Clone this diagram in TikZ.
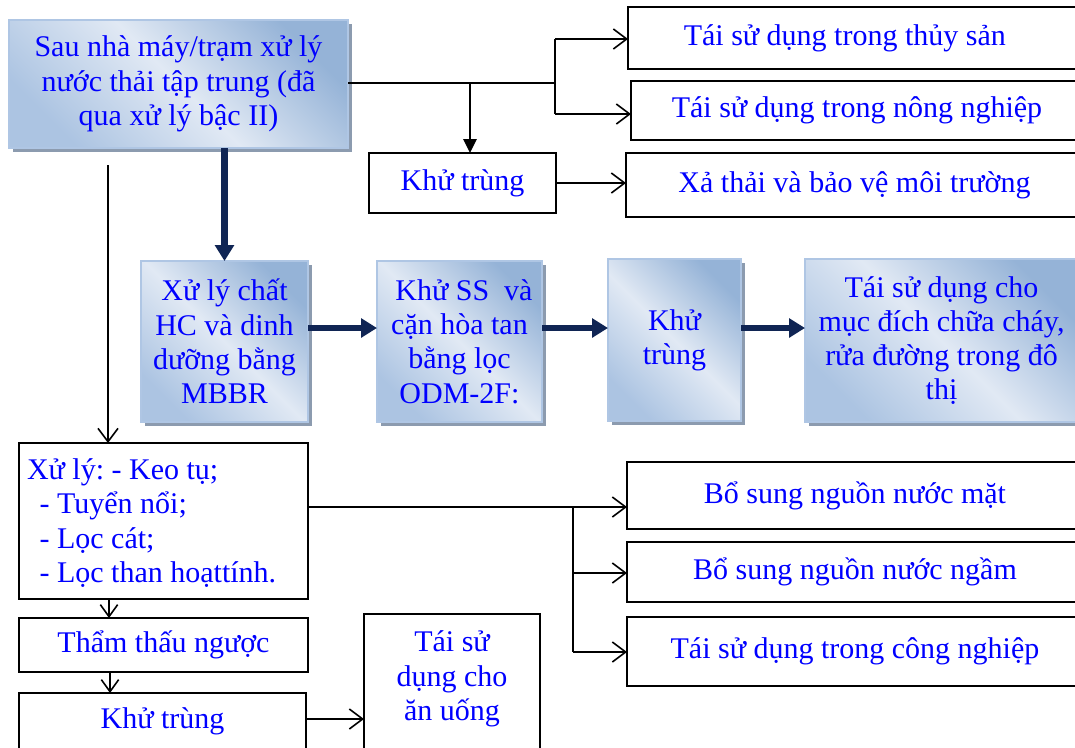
\documentclass[tikz,border=0pt]{standalone}
\usepackage{fontspec}
\setmainfont{Liberation Serif}
\usetikzlibrary{arrows.meta,shadows}
\definecolor{txtblue}{RGB}{0,0,255}
\definecolor{navy}{RGB}{16,37,84}
\definecolor{gdark}{RGB}{149,179,215}
\definecolor{glight}{RGB}{225,233,244}
\definecolor{gmid}{RGB}{172,196,226}
\definecolor{gborder}{RGB}{175,198,228}
\definecolor{gshadow}{RGB}{140,155,175}
\begin{document}
\frenchspacing
\begin{tikzpicture}[x=0.75pt,y=-0.75pt,
  every node/.style={font=\fontsize{22.5pt}{25.7pt}\selectfont, text=txtblue, inner sep=0pt, outer sep=0pt},
  wbox/.style={draw=black, line width=1.3pt, fill=white, anchor=north west, align=center},
  gbox/.style={draw=gborder, line width=1pt, top color=gdark, bottom color=gmid, middle color=glight,
    shading angle=-45, anchor=north west, align=center,
    drop shadow={shadow xshift=3pt, shadow yshift=-3pt, fill=gshadow, opacity=1}},
  ln/.style={line width=1.2pt, draw=black},
  thinarrow/.style={ln, -{Straight Barb[length=10pt,width=15pt]}},
  smallarrow/.style={ln, -{Straight Barb[length=9pt,width=13pt]}},
  fillarrow/.style={ln, -{Triangle[length=10.5pt,width=10pt]}},
  thk/.style={line width=5pt, draw=navy, -{Triangle[length=12pt,width=14pt]}},
]
\useasboundingbox (0,0) rectangle (1075,747);
\clip (0,0) rectangle (1075,747);

% top source box
\node[gbox, minimum width=254.25pt, minimum height=96pt] (src) at (9,20)
  {Sau nhà máy/trạm xử lý\\nước thải tập trung (đã\\qua xử lý bậc II)};

% right column top
\node[wbox, minimum width=341.25pt, minimum height=46.5pt] (thuy) at (628,7) {Tái sử dụng trong thủy sản\hspace*{16pt}};
\node[wbox, minimum width=339pt, minimum height=44.25pt] (nong) at (631,81) {Tái sử dụng trong nông nghiệp};
\node[wbox, minimum width=140.25pt, minimum height=45pt] (kt1) at (369,153) {Khử trùng};
\node[wbox, minimum width=342.75pt, minimum height=48pt] (xa) at (626,153) {Xả thải và bảo vệ môi trường};

% middle row
\node[gbox, minimum width=125.25pt, minimum height=120.75pt] (A) at (141,261)
  {Xử lý chất\\HC và dinh\\dưỡng bằng\\MBBR};
\node[gbox, minimum width=123.75pt, minimum height=120.75pt] (B) at (377,261)
  {\hspace*{0.3em}Khử SS\ \ và\\cặn hòa tan\\bằng lọc\\ODM-2F:};
\node[gbox, minimum width=99.75pt, minimum height=121.5pt] (C) at (608,259)
  {Khử\\trùng};
\node[gbox, minimum width=204.75pt, minimum height=122.25pt] (D) at (805,259)
  {Tái sử dụng cho\\mục đích chữa cháy,\\rửa đường trong đô\\thị};

% lower left
\node[wbox, minimum width=216.75pt, minimum height=117pt] (E) at (19,443) {};
\node[anchor=west, align=left] (Et) at (27,523)
  {Xử lý: - Keo tụ;\\
   \hspace*{0.42em}- Tuyển nổi;\\
   \hspace*{0.42em}- Lọc cát;\\
   \hspace*{0.42em}- Lọc than hoạttính.};
\node[wbox, minimum width=216.75pt, minimum height=40.5pt] (F) at (19,618) {Thẩm thấu ngược};
\node[wbox, minimum width=215.25pt, minimum height=42.75pt] (G) at (19,693) {Khử trùng};
\node[wbox, minimum width=132pt, minimum height=105pt] (H) at (364,614) {};
\node[align=center] (Ht) at (452,679) {Tái sử\\dụng cho\\ăn uống};

% lower right
\node[wbox, minimum width=342pt, minimum height=50.25pt] (mat) at (627,462) {Bổ sung nguồn nước mặt};
\node[wbox, minimum width=342pt, minimum height=45.25pt] (ngam) at (627,542) {Bổ sung nguồn nước ngầm};
\node[wbox, minimum width=342pt, minimum height=52pt] (cn) at (627,617) {Tái sử dụng trong công nghiệp};

% top connectors
\coordinate (jt) at (555,39);
\coordinate (jm) at (555,83);
\coordinate (jb) at (555,114);
\coordinate (jd) at (470,83);
\draw[ln] (src.east |- jm) -- (jm);
\draw[ln] (jt) -- (jb);
\draw[thinarrow] (jt) -- (jt -| thuy.west);
\draw[thinarrow] (jb) -- (jb -| nong.west);
\draw[fillarrow] (jd) -- (jd |- kt1.north);
\draw[thinarrow] (kt1.east) -- (kt1.east -| xa.west);

% thick navy arrows
\coordinate (yh) at (0,328);
\draw[thk] (A.north |- src.south) -- (A.north);
\draw[thk] (A.east |- yh) -- (B.west |- yh);
\draw[thk] (B.east |- yh) -- (C.west |- yh);
\draw[thk] (C.east |- yh) -- (D.west |- yh);

% left vertical chain
\coordinate (vs) at (108,165);
\draw[thinarrow] (vs) -- (vs |- E.north);
\coordinate (ef) at (109,599);
\draw[smallarrow] (ef) -- (ef |- F.north);
\coordinate (fg) at (110,672);
\draw[smallarrow] (fg) -- (fg |- G.north);
\coordinate (gh) at (0,719);
\draw[thinarrow] (G.east |- gh) -- (H.west |- gh);

% lower right connectors
\coordinate (e1) at (573,507);
\coordinate (e2) at (573,573);
\coordinate (e3) at (573,652);
\draw[ln] (E.east |- e1) -- (e1);
\draw[ln] (e1) -- (e3);
\draw[thinarrow] (e1) -- (e1 -| mat.west);
\draw[thinarrow] (e2) -- (e2 -| ngam.west);
\draw[thinarrow] (e3) -- (e3 -| cn.west);
\end{tikzpicture}
\end{document}
